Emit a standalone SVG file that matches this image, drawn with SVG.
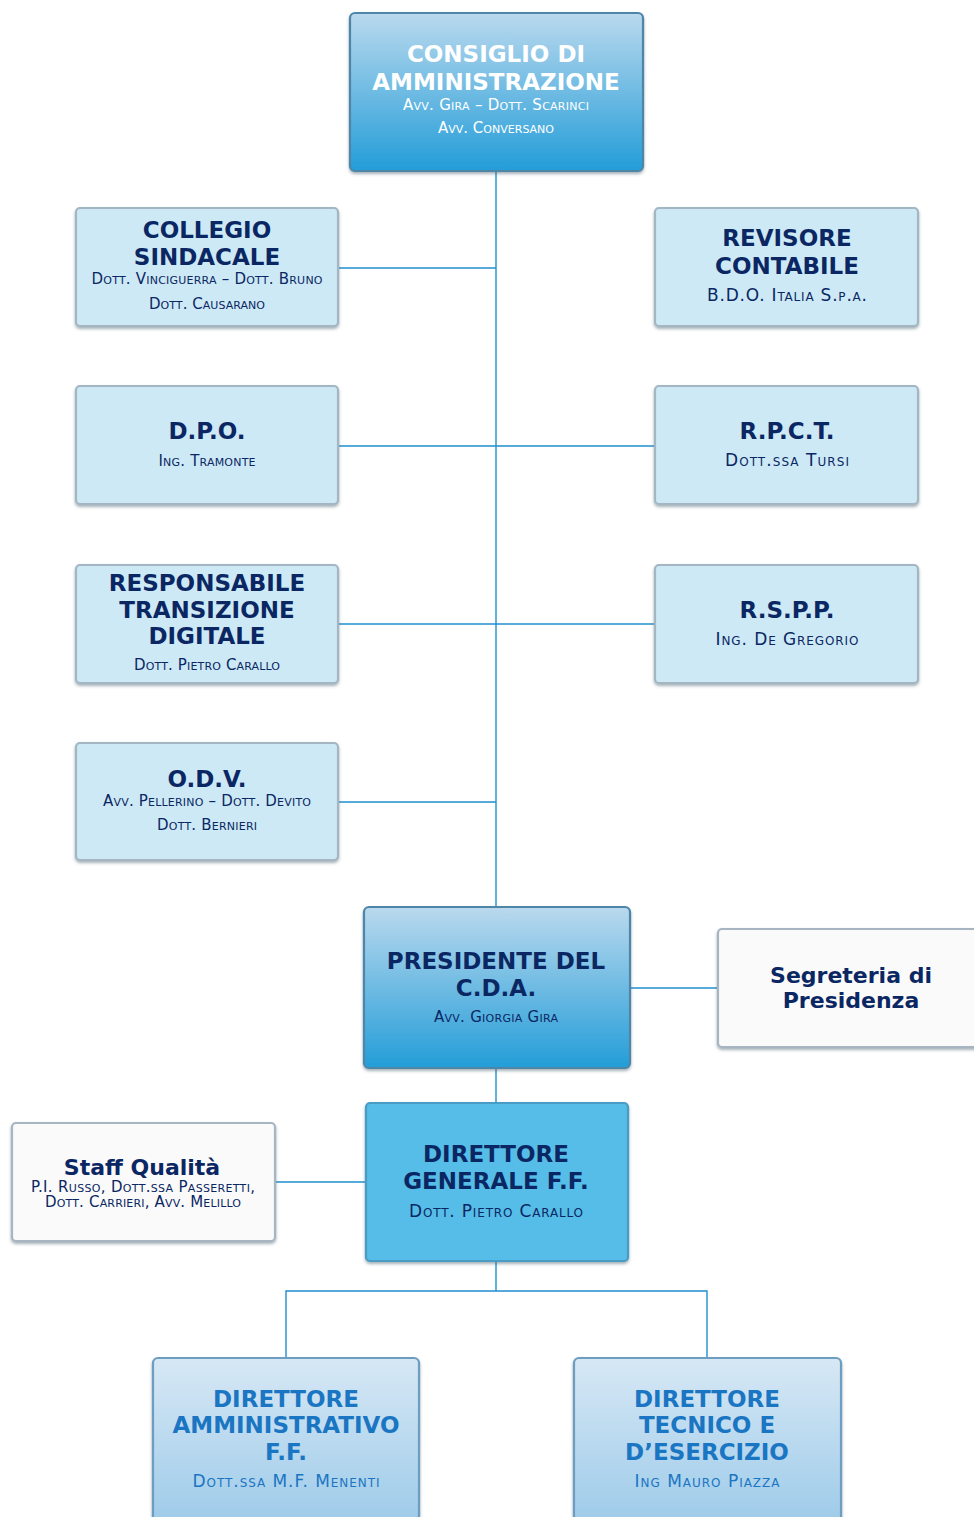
<svg xmlns="http://www.w3.org/2000/svg" width="974" height="1517" viewBox="0 0 974 1517">
  <defs>
    <linearGradient id="gBoard" x1="0" y1="0" x2="0" y2="1">
      <stop offset="0" stop-color="#bad9ee"/>
      <stop offset="1" stop-color="#239dd8"/>
    </linearGradient>
    <linearGradient id="gDir" x1="0" y1="0" x2="0" y2="1">
      <stop offset="0" stop-color="#d7e8f5"/>
      <stop offset="1" stop-color="#9ccae9"/>
    </linearGradient>
    <filter id="shadow" x="-5%" y="-5%" width="110%" height="115%">
      <feDropShadow dx="0" dy="2" stdDeviation="1.6" flood-color="#4b6272" flood-opacity="0.5"/>
    </filter>
  </defs>
  <style>
    .box { filter: url(#shadow); stroke-width: 2.2; }
    .light { fill: #cde9f6; stroke: #a3b6c2; }
    .white { fill: #fafafa; stroke: #a6b5c1; }
    .board { fill: url(#gBoard); stroke: #4f86a8; }
    .dg { fill: #55bde7; stroke: #4a9cc4; }
    .dir { fill: url(#gDir); stroke: #6d9dbf; }
    text { font-family: "DejaVu Sans", Verdana, sans-serif; text-anchor: middle; }
    .t { font-weight: bold; font-size: 23px; fill: #0b2763; }
    .tl { font-weight: bold; font-size: 22px; fill: #0b2763; }
    .s { font-size: 15px; fill: #0b2763; font-variant: small-caps; }
    .s2 { font-size: 17px; fill: #0b2763; font-variant: small-caps; }
    .w { fill: #ffffff; }
    .b { fill: #1a75c2; }
    .wire { fill: none; stroke: #1f8fcf; stroke-width: 1.4; }
  </style>

  <g id="connectors">
    <path class="wire" d="M496 171 V907"/>
    <path class="wire" d="M338 268 H496"/>
    <path class="wire" d="M338 446 H655"/>
    <path class="wire" d="M338 624 H655"/>
    <path class="wire" d="M338 802 H496"/>
    <path class="wire" d="M630 988 H718"/>
    <path class="wire" d="M496 1068 V1103"/>
    <path class="wire" d="M275 1182 H366"/>
    <path class="wire" d="M496 1261 V1291 M286 1358 V1291 H707 V1358"/>
  </g>

  <g id="consiglio">
    <rect class="box board" x="350" y="13" width="293" height="158" rx="5"/>
    <text class="t w" x="496" y="62">CONSIGLIO DI</text>
    <text class="t w" x="496" y="90">AMMINISTRAZIONE</text>
    <text class="s w" x="496" y="110" textLength="186">Avv. Gira – Dott. Scarinci</text>
    <text class="s w" x="496" y="133" textLength="116">Avv. Conversano</text>
  </g>

  <g id="collegio">
    <rect class="box light" x="76" y="208" width="262" height="118" rx="4"/>
    <text class="t" x="207" y="238">COLLEGIO</text>
    <text class="t" x="207" y="265">SINDACALE</text>
    <text class="s" x="207" y="284" textLength="231">Dott. Vinciguerra – Dott. Bruno</text>
    <text class="s" x="207" y="309" textLength="116">Dott. Causarano</text>
  </g>

  <g id="revisore">
    <rect class="box light" x="655" y="208" width="263" height="118" rx="4"/>
    <text class="t" x="787" y="246">REVISORE</text>
    <text class="t" x="787" y="274">CONTABILE</text>
    <text class="s2" x="787" y="301" textLength="160">B.D.O. Italia S.p.a.</text>
  </g>

  <g id="dpo">
    <rect class="box light" x="76" y="386" width="262" height="118" rx="4"/>
    <text class="t" x="207" y="439">D.P.O.</text>
    <text class="s" x="207" y="466" textLength="97">Ing. Tramonte</text>
  </g>

  <g id="rpct">
    <rect class="box light" x="655" y="386" width="263" height="118" rx="4"/>
    <text class="t" x="787" y="439">R.P.C.T.</text>
    <text class="s2" x="787" y="466" textLength="124">Dott.ssa Tursi</text>
  </g>

  <g id="rtd">
    <rect class="box light" x="76" y="565" width="262" height="118" rx="4"/>
    <text class="t" x="207" y="591">RESPONSABILE</text>
    <text class="t" x="207" y="618">TRANSIZIONE</text>
    <text class="t" x="207" y="644">DIGITALE</text>
    <text class="s" x="207" y="670" textLength="146">Dott. Pietro Carallo</text>
  </g>

  <g id="rspp">
    <rect class="box light" x="655" y="565" width="263" height="118" rx="4"/>
    <text class="t" x="787" y="618">R.S.P.P.</text>
    <text class="s2" x="787" y="645" textLength="143">Ing. De Gregorio</text>
  </g>

  <g id="odv">
    <rect class="box light" x="76" y="743" width="262" height="117" rx="4"/>
    <text class="t" x="207" y="787">O.D.V.</text>
    <text class="s" x="207" y="806" textLength="208">Avv. Pellerino – Dott. Devito</text>
    <text class="s" x="207" y="830" textLength="100">Dott. Bernieri</text>
  </g>

  <g id="presidente">
    <rect class="box board" x="364" y="907" width="266" height="161" rx="5"/>
    <text class="t" x="496" y="969">PRESIDENTE DEL</text>
    <text class="t" x="496" y="996">C.D.A.</text>
    <text class="s" x="496" y="1022" textLength="124">Avv. Giorgia Gira</text>
  </g>

  <g id="segreteria">
    <rect class="box white" x="718" y="929" width="262" height="118" rx="4"/>
    <text class="tl" x="851" y="983">Segreteria di</text>
    <text class="tl" x="851" y="1008">Presidenza</text>
  </g>

  <g id="staff">
    <rect class="box white" x="12" y="1123" width="263" height="118" rx="4"/>
    <text class="tl" x="142" y="1175">Staff Qualità</text>
    <text class="s" x="143" y="1192" textLength="224">P.I. Russo, Dott.ssa Passeretti,</text>
    <text class="s" x="143" y="1207" textLength="196">Dott. Carrieri, Avv. Melillo</text>
  </g>

  <g id="direttore-generale">
    <rect class="box dg" x="366" y="1103" width="262" height="158" rx="4"/>
    <text class="t" x="496" y="1162">DIRETTORE</text>
    <text class="t" x="496" y="1189">GENERALE F.F.</text>
    <text class="s2" x="496" y="1217" textLength="174">Dott. Pietro Carallo</text>
  </g>

  <g id="direttore-amministrativo">
    <rect class="box dir" x="153" y="1358" width="266" height="170" rx="5"/>
    <text class="t b" x="286" y="1407">DIRETTORE</text>
    <text class="t b" x="286" y="1433">AMMINISTRATIVO</text>
    <text class="t b" x="286" y="1460">F.F.</text>
    <text class="s2 b" x="286" y="1487" textLength="187">Dott.ssa M.F. Menenti</text>
  </g>

  <g id="direttore-tecnico">
    <rect class="box dir" x="574" y="1358" width="267" height="170" rx="5"/>
    <text class="t b" x="707" y="1407">DIRETTORE</text>
    <text class="t b" x="707" y="1433">TECNICO E</text>
    <text class="t b" x="707" y="1460">D’ESERCIZIO</text>
    <text class="s2 b" x="707" y="1487" textLength="145">Ing Mauro Piazza</text>
  </g>
</svg>
